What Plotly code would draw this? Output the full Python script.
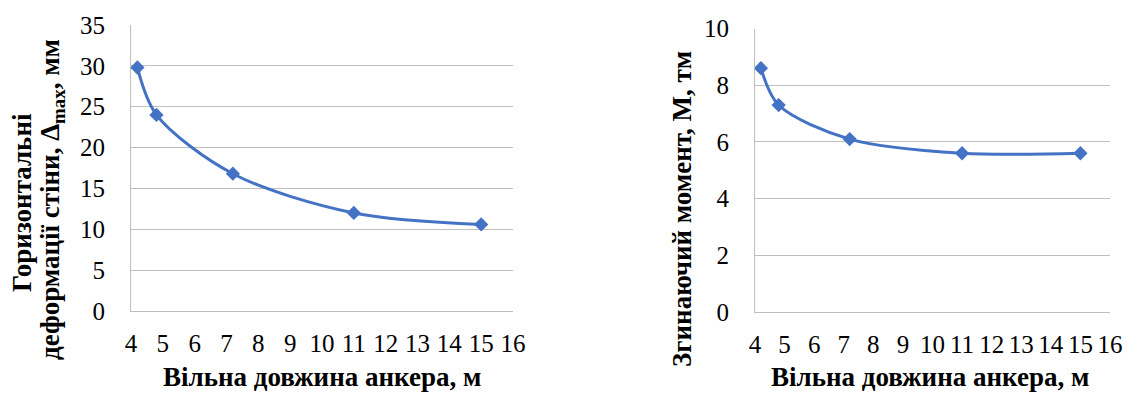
import plotly.graph_objects as go

anchor_length = [4.2, 4.8, 7.2, 11, 15]
deformation_mm = [29.8, 24.0, 16.8, 12.0, 10.6]
moment_tm = [8.6, 7.3, 6.1, 5.6, 5.6]

x_ticks = list(range(4, 17))
left_y_ticks = [0, 5, 10, 15, 20, 25, 30, 35]
right_y_ticks = [0, 2, 4, 6, 8, 10]

W, H = 1127, 394
BLUE = "#4472C4"
GRID = "#BFBFBF"
FONT = "Liberation Serif, Times New Roman, serif"

fig = go.Figure()
for xa, ya, vals in (("x", "y", deformation_mm), ("x2", "y2", moment_tm)):
    fig.add_trace(go.Scatter(x=anchor_length, y=vals, mode="lines+markers",
                             line=dict(color=BLUE, width=3, shape="spline", smoothing=0.9),
                             marker=dict(symbol="diamond", size=11, color=BLUE),
                             xaxis=xa, yaxis=ya, showlegend=False, hoverinfo="skip"))

def px_x(p):
    return p / W

def px_y(p):
    return 1 - p / H

tickfont = dict(family=FONT, size=25, color="#000000")
xcommon = dict(range=[4, 16], tickvals=x_ticks, showgrid=False, zeroline=False,
               showline=True, linecolor=GRID, linewidth=1, ticks="outside",
               ticklen=10, tickcolor="rgba(0,0,0,0)", tickfont=tickfont,
               fixedrange=True, automargin=False)
ycommon = dict(showgrid=True, gridcolor=GRID, gridwidth=1, zeroline=False,
               showline=True, linecolor=GRID, linewidth=1, ticks="outside",
               ticklen=20, tickcolor="rgba(0,0,0,0)", tickfont=tickfont,
               fixedrange=True, automargin=False)

fig.update_layout(
    template="none",
    width=W, height=H,
    margin=dict(l=0, r=0, t=0, b=0, pad=0, autoexpand=False),
    paper_bgcolor="white", plot_bgcolor="white",
    font=dict(family=FONT),
    xaxis=dict(domain=[px_x(131), px_x(513)], anchor="y", **xcommon),
    yaxis=dict(domain=[px_y(311), px_y(25)], anchor="x", range=[0, 35],
               tickvals=left_y_ticks, **ycommon),
    xaxis2=dict(domain=[px_x(755), px_x(1110)], anchor="y2", **xcommon),
    yaxis2=dict(domain=[px_y(312), px_y(28.5)], anchor="x2", range=[0, 10],
                tickvals=right_y_ticks, **ycommon),
)

tfont = dict(family=FONT, size=27, color="#000000")
def ann(text, x, y, angle=0):
    return dict(text=text, x=px_x(x), y=px_y(y), xref="paper", yref="paper",
                showarrow=False, font=tfont, textangle=angle,
                xanchor="center", yanchor="middle")

fig.update_layout(annotations=[
    ann("<b>Вільна довжина анкера, м</b>", 322, 377),
    ann("<b>Вільна довжина анкера, м</b>", 930, 377),
    ann("<b>Горизонтальні</b>", 22, 203, -90),
    ann("<b>деформації стіни, Δ<sub>max</sub>, мм</b>", 52, 200, -90),
    ann("<b>Згинаючий момент, М, тм</b>", 682, 209, -90),
])

fig.write_html("out.html", config={"displayModeBar": False},
               post_script="document.body.style.margin='0';document.body.style.overflow='hidden';")
